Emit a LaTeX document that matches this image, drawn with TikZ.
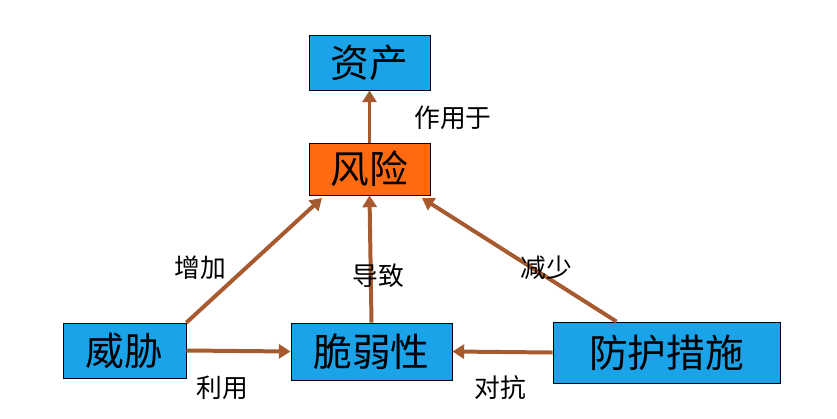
\documentclass[tikz,border=0pt]{standalone}
\usepackage{fontspec}
\newfontfamily\cjk{Noto Sans CJK SC}
\usetikzlibrary{arrows.meta}
\definecolor{boxblue}{HTML}{1AA3E8}
\definecolor{boxorange}{HTML}{FF6A10}
\definecolor{arr}{HTML}{A65A2E}
\begin{document}
\begin{tikzpicture}[x=0.03cm,y=-0.03cm,
  box/.style={draw=black,line width=0.8pt,inner sep=0pt,font=\cjk\fontsize{33}{35}\selectfont},
  lab/.style={font=\cjk\fontsize{22}{24}\selectfont},
  conn/.style={draw=arr,line width=3.4pt,-{Triangle[length=10pt,width=12pt]}}]
\useasboundingbox (0,0) rectangle (837,418);
\node[box,fill=boxblue,minimum width=121*0.03cm,minimum height=55*0.03cm] (asset) at (369.5,62.5) {资产};
\node[box,fill=boxorange,minimum width=121*0.03cm,minimum height=52*0.03cm] (risk) at (369.5,169) {风险};
\node[box,fill=boxblue,minimum width=123*0.03cm,minimum height=55*0.03cm] (threat) at (124.5,350.5) {威胁};
\node[box,fill=boxblue,minimum width=161*0.03cm,minimum height=57*0.03cm] (vuln) at (371.5,351.5) {脆弱性};
\node[box,fill=boxblue,minimum width=227*0.03cm,minimum height=61*0.03cm] (prot) at (666.5,352.5) {防护措施};
\coordinate (r1) at (322,198); \coordinate (r3) at (422,198);
\draw[conn] (risk.north) -- (asset.south);
\draw[conn] (threat.north east) -- (r1);
\draw[conn] (vuln.north) -- (risk.south);
\draw[conn] ([xshift=-50*0.03cm]prot.north) -- (r3);
\draw[conn] (threat.east) -- (vuln.west);
\draw[conn] (prot.west) -- (vuln.east);
\node[lab] (l1) at (453,118) {作用于};
\node[lab] (l2) at (200,268) {增加};
\node[lab] (l3) at (378,276) {导致};
\node[lab] (l4) at (546,268) {减少};
\node[lab] (l5) at (222,388) {利用};
\node[lab] (l6) at (500,388) {对抗};
\end{tikzpicture}
\end{document}
